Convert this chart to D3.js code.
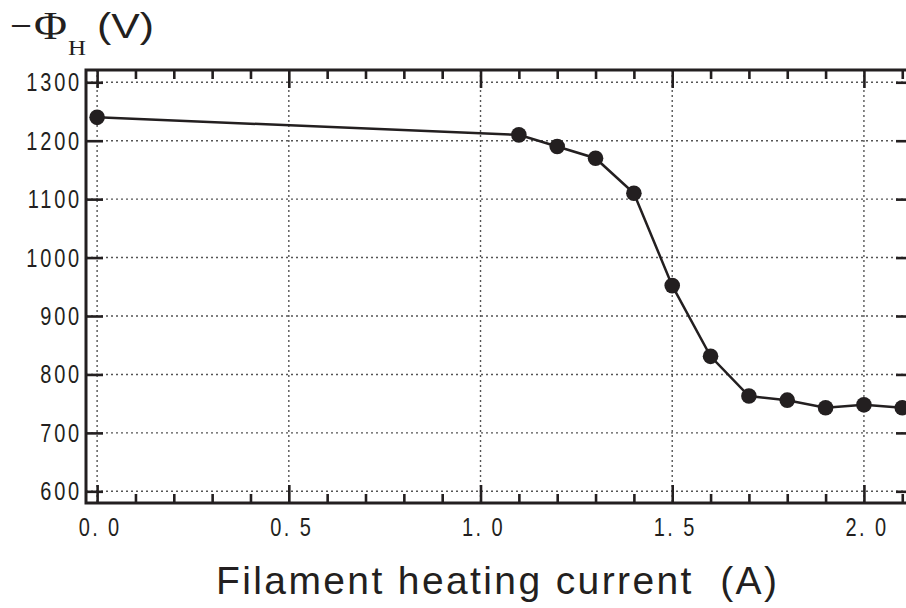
<!DOCTYPE html>
<html>
<head>
<meta charset="utf-8">
<script src="https://cdn.jsdelivr.net/npm/d3@7"></script>
<style>
  html, body { margin: 0; padding: 0; background: #fff; }
  svg { display: block; }
</style>
</head>
<body>
<svg id="chart" width="906" height="608"></svg>
<script>
// Filament heating current (A) vs. -Phi_H (V)
const current = [0.0, 1.1, 1.2, 1.3, 1.4, 1.5, 1.6, 1.7, 1.8, 1.9, 2.0, 2.1];
const voltage = [1240, 1210, 1190, 1170, 1110, 952, 831, 763, 756, 743, 748, 743];

const xTickValues = [0.0, 0.5, 1.0, 1.5, 2.0];
const xTickLabels = ["0. 0", "0. 5", "1. 0", "1. 5", "2. 0"];
const yTickValues = [600, 700, 800, 900, 1000, 1100, 1200, 1300];
const xMinorTicks = d3.range(0, 22).map(i => i / 10);

const ink = "#231f20";
const sans = "'Liberation Sans', Arial, sans-serif";
const serif = "'Liberation Serif', 'Times New Roman', serif";
const svg = d3.select("#chart");

const plotL = 86, plotR = 913, plotT = 70, plotB = 503;
const x = d3.scaleLinear().domain([-0.029, 2.128]).range([plotL, plotR]);
const y = d3.scaleLinear().domain([580, 1321]).range([plotB, plotT]);

// dotted grid
const grid = svg.append("g")
  .attr("stroke", "#555")
  .attr("stroke-width", 1.4)
  .attr("stroke-dasharray", "2,3");
grid.selectAll("line.gx").data(xTickValues).join("line")
  .attr("class", "gx")
  .attr("x1", d => x(d)).attr("x2", d => x(d))
  .attr("y1", plotT).attr("y2", plotB);
grid.selectAll("line.gy").data(yTickValues).join("line")
  .attr("class", "gy")
  .attr("x1", plotL).attr("x2", plotR)
  .attr("y1", d => y(d)).attr("y2", d => y(d));

// inward ticks on all four sides
const isMajor = d => Math.abs(d * 2 - Math.round(d * 2)) < 1e-6;
const gB = svg.append("g").attr("transform", `translate(0,${plotB})`).call(d3.axisBottom(x)
  .tickValues(xMinorTicks).tickSizeInner(-1).tickSizeOuter(0).tickFormat(""));
gB.selectAll(".tick line").attr("y2", d => isMajor(d) ? -18 : -9);
const gT = svg.append("g").attr("transform", `translate(0,${plotT})`).call(d3.axisTop(x)
  .tickValues(xMinorTicks).tickSizeInner(-1).tickSizeOuter(0).tickFormat(""));
gT.selectAll(".tick line").attr("y2", d => isMajor(d) ? 18 : 9);

const gL = svg.append("g").attr("transform", `translate(${plotL},0)`).call(d3.axisLeft(y)
  .tickValues(yTickValues).tickSizeInner(-17).tickSizeOuter(0).tickFormat(""));
const gR = svg.append("g").attr("transform", `translate(${plotR},0)`).call(d3.axisRight(y)
  .tickValues(yTickValues).tickSizeInner(-17).tickSizeOuter(0).tickFormat(""));

[gB, gT, gL, gR].forEach(g => {
  g.select(".domain").remove();
  g.selectAll(".tick line").attr("stroke", ink).attr("stroke-width", 2.6);
});

// frame
svg.append("rect")
  .attr("x", plotL).attr("y", plotT)
  .attr("width", plotR - plotL).attr("height", plotB - plotT)
  .attr("fill", "none").attr("stroke", ink).attr("stroke-width", 3);

// tick labels (tall, narrow digits)
svg.append("g").selectAll("text").data(yTickValues).join("text")
  .attr("transform", d => `translate(${plotL - 4},${y(d) + 9}) scale(0.8,1)`)
  .attr("text-anchor", "end")
  .attr("font-family", sans)
  .attr("font-size", 25).attr("letter-spacing", 3.5)
  .attr("fill", ink)
  .text(d => d);

svg.append("g").selectAll("text").data(xTickValues).join("text")
  .attr("transform", d => `translate(${x(d) + 3},536) scale(0.8,1)`)
  .attr("text-anchor", "middle")
  .attr("font-family", sans)
  .attr("font-size", 25).attr("letter-spacing", 3)
  .attr("fill", ink)
  .attr("xml:space", "preserve")
  .text((d, i) => xTickLabels[i]);

// series
const pts = current.map((c, i) => [c, voltage[i]]);
svg.append("path")
  .datum(pts)
  .attr("fill", "none").attr("stroke", ink).attr("stroke-width", 2.5)
  .attr("d", d3.line().x(d => x(d[0])).y(d => y(d[1])));
svg.append("g").selectAll("circle").data(pts).join("circle")
  .attr("cx", d => x(d[0])).attr("cy", d => y(d[1]))
  .attr("r", 7.8).attr("fill", ink);

// x-axis title
svg.append("text")
  .attr("x", 216).attr("y", 594)
  .attr("font-family", sans)
  .attr("font-size", 39)
  .attr("textLength", 561).attr("lengthAdjust", "spacing")
  .attr("fill", ink)
  .attr("xml:space", "preserve")
  .text("Filament heating current  (A)");

// y-axis title: −Φ_H (V)
const yTitle = svg.append("g").attr("fill", ink);
yTitle.append("text")
  .attr("x", 10).attr("y", 39)
  .attr("font-family", serif).attr("font-size", 40)
  .attr("textLength", 22).attr("lengthAdjust", "spacingAndGlyphs")
  .text("\u2212");
yTitle.append("text")
  .attr("x", 34).attr("y", 39)
  .attr("font-family", serif).attr("font-size", 41)
  .attr("textLength", 33).attr("lengthAdjust", "spacingAndGlyphs")
  .text("\u03A6");
yTitle.append("text")
  .attr("x", 68).attr("y", 55)
  .attr("font-family", serif).attr("font-size", 21)
  .attr("textLength", 18).attr("lengthAdjust", "spacingAndGlyphs")
  .text("H");
yTitle.append("text")
  .attr("x", 97).attr("y", 38)
  .attr("font-family", sans).attr("font-size", 35)
  .attr("textLength", 57).attr("lengthAdjust", "spacingAndGlyphs")
  .text("(V)");
</script>
</body>
</html>
